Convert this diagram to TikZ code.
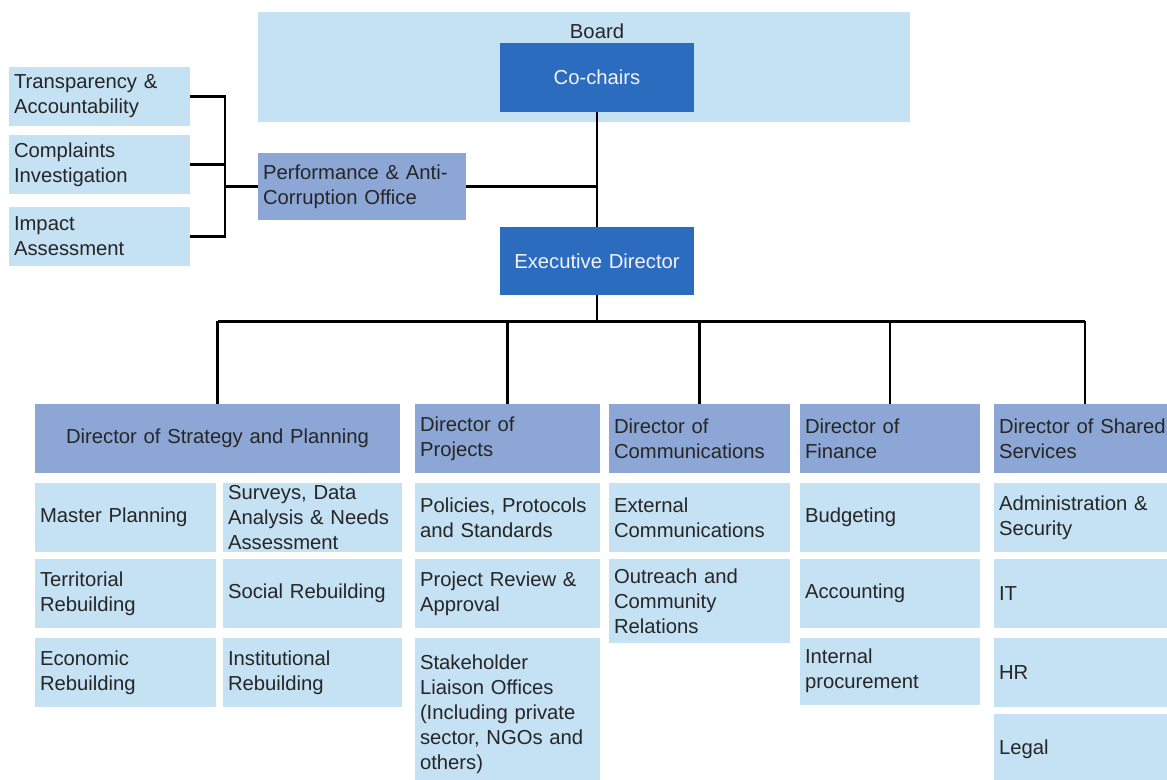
\documentclass[tikz,border=0pt]{standalone}
\usepackage{fontspec}
\setmainfont{Liberation Sans}
\definecolor{pale}{RGB}{197,225,244}
\definecolor{mid}{RGB}{140,167,213}
\definecolor{deep}{RGB}{43,108,190}
\tikzset{sz/.style 2 args={text width=(#1-10)*0.025cm, minimum height=#2*0.025cm}}

\begin{document}
\begin{tikzpicture}[x=0.025cm, y=-0.025cm, font=\fontsize{14.4}{17.7}\selectfont]
    \tikzstyle{every node} = [rectangle, inner xsep=0.125cm, inner ysep=0.05cm, align=left, text=black!85]
    \tikzstyle{light} = [fill=pale]
    \tikzstyle{head} = [fill=mid]
    \tikzstyle{dark} = [fill=deep, text=blue!5, align=center]
    \tikzstyle{link} = [line width=2pt, black]

    \useasboundingbox (0,0) rectangle (1167,779);

    \node (bd) at (584, 67) [light, sz={652}{110}] {};
    \node (bl) at (597, 31) {Board};
    \node (a) at (597, 77.5) [dark, sz={194}{69}] {Co-chairs};
    \node (b) at (597, 261) [dark, sz={194}{68}] {Executive Director};
    \node (c) at (362, 186.5) [head, sz={208}{67}] {Performance \& Anti-\\Corruption Office};

    \node (t1) at (99.5, 96.5) [light, sz={181}{59}] {Transparency \&\\Accountability};
    \node (t2) at (99.5, 164.5) [light, sz={181}{59}] {Complaints\\Investigation};
    \node (t3) at (99.5, 236.5) [light, sz={181}{59}] {Impact\\Assessment};
    \coordinate (k) at (225, 186.5);

    % directors
    \node (s0) at (217.5, 438.5) [head, sz={365}{69}, align=center] {Director of Strategy and Planning};
    \node (p0) at (507.5, 438.5) [head, sz={185}{69}] {Director of\\Projects};
    \node (m0) at (699.5, 438.5) [head, sz={181}{69}] {Director of\\Communications};
    \node (f0) at (890, 438.5) [head, sz={180}{69}] {Director of\\Finance};
    \node (h0) at (1085, 438.5) [head, sz={182}{69}] {Director of Shared\\Services};

    \node (s1) at (125.5, 517.5) [light, sz={181}{69}] {Master Planning};
    \node (s2) at (312.5, 517.5) [light, sz={179}{69}] {Surveys, Data\\Analysis \& Needs\\Assessment};
    \node (s3) at (125.5, 593.5) [light, sz={181}{69}] {Territorial\\Rebuilding};
    \node (s4) at (312.5, 593.5) [light, sz={179}{69}] {Social Rebuilding};
    \node (s5) at (125.5, 672.5) [light, sz={181}{69}] {Economic\\Rebuilding};
    \node (s6) at (312.5, 672.5) [light, sz={179}{69}] {Institutional\\Rebuilding};

    \node (p1) at (507.5, 517.5) [light, sz={185}{69}] {Policies, Protocols\\and Standards};
    \node (p2) at (507.5, 593.5) [light, sz={185}{69}] {Project Review \&\\Approval};
    \node (p3) at (507.5, 714) [light, sz={185}{152}] {Stakeholder\\Liaison Offices\\(Including private\\sector, NGOs and\\others)};

    \node (m1) at (699.5, 517.5) [light, sz={181}{69}] {External\\Communications};
    \node (m2) at (699.5, 601) [light, sz={181}{84}] {Outreach and\\Community\\Relations};

    \node (f1) at (890, 517.5) [light, sz={180}{69}] {Budgeting};
    \node (f2) at (890, 593.5) [light, sz={180}{69}] {Accounting};
    \node (f3) at (890, 671) [light, sz={180}{67}] {Internal\\procurement};

    \node (h1) at (1085, 517.5) [light, sz={182}{69}] {Administration \&\\Security};
    \node (h2) at (1085, 593.5) [light, sz={182}{69}] {IT};
    \node (h3) at (1085, 672.5) [light, sz={182}{69}] {HR};
    \node (h4) at (1085, 749) [light, sz={182}{70}] {Legal};

    \draw [link] (t1.east) -| (k) |- (t3.east);
    \draw [link] (t2.east) -- (t2.east -| k);
    \draw [link] (k) -- (c.west);
    \draw [link] (c.east) -- (c.east -| a);
    \draw [link] (a) -- (b);
    \draw [link] (b.south) -- ++(0, 26) coordinate (bus);
    \draw [link] (bus -| s0) -- (bus -| h0);
    \foreach \d in {s0, p0, m0, f0, h0}
        \draw [link] (bus -| \d.north) -- (\d.north);
\end{tikzpicture}
\end{document}
